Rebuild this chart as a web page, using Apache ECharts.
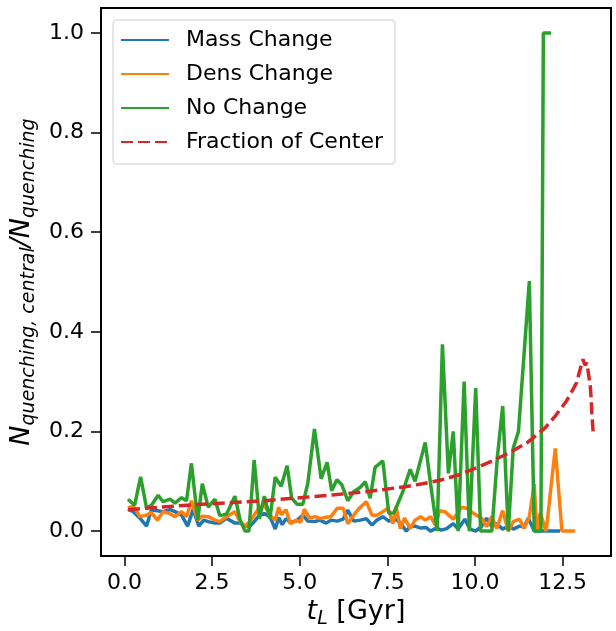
<!DOCTYPE html>
<html><head><meta charset="utf-8">
<script src="https://cdn.jsdelivr.net/npm/echarts@6/dist/echarts.min.js"></script>
<style>html,body{margin:0;padding:0;background:#fff}#c{width:616px;height:631px}</style>
</head><body><div id="c"></div>
<script>
const xTicks = [0, 2.5, 5, 7.5, 10, 12.5];
const yTicks = [0, 0.2, 0.4, 0.6, 0.8, 1.0];

const massT = [0.10,0.25,0.44,0.63,0.77,0.94,1.10,1.30,1.44,1.63,1.80,1.96,2.12,2.26,2.39,2.58,2.72,2.91,3.15,3.30,3.44,3.58,3.70,3.85,3.99,4.15,4.30,4.40,4.50,4.61,4.73,4.90,5.09,5.23,5.42,5.58,5.75,5.89,6.07,6.24,6.37,6.54,6.73,6.90,7.06,7.20,7.37,7.54,7.69,7.85,8.04,8.15,8.29,8.45,8.61,8.73,8.90,9.04,9.19,9.38,9.52,9.71,9.86,10.02,10.19,10.33,10.48,10.62,10.79,10.95,11.09,11.27,11.40,11.52,11.69,12.43];
const massV = [0.044,0.039,0.026,0.010,0.043,0.041,0.039,0.043,0.039,0.032,0.010,0.044,0.010,0.022,0.019,0.016,0.016,0.026,0.016,0.016,0.010,0.010,0.019,0.032,0.035,0.029,0.004,0.027,0.013,0.025,0.018,0.020,0.032,0.020,0.019,0.022,0.016,0.022,0.020,0.024,0.042,0.020,0.022,0.025,0.012,0.022,0.029,0.020,0.025,0.018,0.000,0.009,0.010,0.006,0.007,0.000,0.006,0.002,0.005,0.015,0.004,0.024,0.004,0.000,0.010,0.026,0.009,0.015,0.004,0.010,0.004,0.010,0.008,0.026,0.000,0.000];

const densT = [0.10,0.25,0.44,0.63,0.77,0.94,1.10,1.30,1.44,1.63,1.77,1.91,2.09,2.22,2.39,2.58,2.72,2.91,3.15,3.30,3.44,3.58,3.70,3.85,3.99,4.15,4.30,4.40,4.47,4.61,4.73,4.90,5.03,5.13,5.28,5.44,5.58,5.75,5.89,6.07,6.24,6.37,6.54,6.70,6.90,7.06,7.20,7.37,7.52,7.66,7.75,7.87,7.99,8.15,8.29,8.45,8.58,8.73,8.87,8.99,9.14,9.38,9.62,9.76,9.95,10.19,10.33,10.48,10.62,10.79,10.95,11.09,11.27,11.40,11.55,11.69,11.76,11.86,12.03,12.29,12.48,12.86];
const densV = [0.046,0.050,0.029,0.032,0.037,0.022,0.039,0.035,0.029,0.039,0.029,0.061,0.022,0.030,0.029,0.022,0.019,0.029,0.039,0.019,0.010,0.019,0.032,0.048,0.052,0.032,0.022,0.048,0.033,0.043,0.015,0.022,0.018,0.044,0.026,0.029,0.025,0.028,0.029,0.046,0.046,0.015,0.032,0.046,0.059,0.032,0.032,0.039,0.046,0.015,0.049,0.005,0.026,0.005,0.022,0.029,0.022,0.029,0.012,0.041,0.039,0.024,0.048,0.046,0.036,0.026,0.009,0.029,0.005,0.041,0.000,0.019,0.024,0.005,0.029,0.095,0.000,0.036,0.000,0.166,0.000,0.000];

const noT = [0.10,0.29,0.46,0.63,0.77,0.96,1.10,1.30,1.44,1.63,1.77,1.91,2.09,2.22,2.39,2.58,2.72,2.91,3.15,3.30,3.44,3.55,3.70,3.85,3.99,4.15,4.30,4.47,4.64,4.77,4.92,5.09,5.23,5.42,5.61,5.78,5.91,6.06,6.20,6.37,6.54,6.73,6.87,7.01,7.15,7.37,7.54,7.69,7.94,8.15,8.29,8.58,8.73,8.92,9.07,9.24,9.38,9.52,9.69,9.84,10.02,10.16,10.48,10.64,10.79,10.95,11.09,11.24,11.55,11.69,11.88,11.95,12.17];
const noV = [0.064,0.052,0.109,0.046,0.052,0.072,0.059,0.064,0.056,0.067,0.061,0.136,0.022,0.095,0.048,0.064,0.031,0.034,0.070,0.022,0.000,0.000,0.143,0.025,0.070,0.025,0.108,0.090,0.131,0.066,0.054,0.054,0.096,0.205,0.105,0.138,0.081,0.103,0.093,0.061,0.079,0.088,0.099,0.066,0.128,0.141,0.036,0.037,0.079,0.124,0.100,0.178,0.096,0.000,0.375,0.116,0.200,0.000,0.300,0.000,0.287,0.000,0.000,0.150,0.251,0.000,0.166,0.200,0.502,0.000,0.000,1.000,1.000];

const fracT = [0.10,1.00,2.00,3.00,4.00,5.00,6.00,7.00,8.00,8.50,9.00,9.50,10.00,10.50,11.00,11.50,12.00,12.30,12.60,12.80,12.90,13.00,13.08,13.14,13.19,13.25,13.29,13.32,13.33,13.35,13.37];
const fracV = [0.043,0.048,0.053,0.057,0.061,0.067,0.073,0.080,0.089,0.095,0.102,0.112,0.126,0.141,0.158,0.178,0.207,0.232,0.260,0.285,0.298,0.325,0.345,0.333,0.338,0.310,0.290,0.260,0.240,0.220,0.200];

const names = ['Mass Change', 'Dens Change', 'No Change', 'Fraction of Center'];
const colors = ['#1f77b4', '#ff7f0e', '#2ca02c', '#d62728'];

function pairs(t, v) { return t.map((x, i) => [x, v[i]]); }

const FF = 'DejaVu Sans';
const LW = 3.5;
const chart = echarts.init(document.getElementById('c'), null, {renderer: 'canvas'});
chart.setOption({
  animation: false,
  backgroundColor: '#fff',
  grid: {left: 101, right: 5, top: 8, bottom: 75, outerBoundsMode: 'none', containLabel: false,
    show: true, borderColor: '#000', borderWidth: 2, backgroundColor: 'transparent'},
  xAxis: {
    type: 'value', min: -0.67, max: 13.88,
    splitLine: {show: false},
    axisLine: {show: true, onZero: false, lineStyle: {color: '#000', width: 2}},
    axisTick: {show: true, length: 10, lineStyle: {color: '#000', width: 1.5}, customValues: xTicks},
    axisLabel: {customValues: xTicks, margin: 16, color: '#000', fontFamily: FF, fontSize: 22, formatter: v => v.toFixed(1)},
    name: '{it|t}{sub|L}{rm| [Gyr]}', nameLocation: 'middle', nameGap: 38,
    nameTextStyle: {fontFamily: FF, fontSize: 27, color: '#000',
      rich: {it: {fontStyle: 'italic', fontSize: 27, fontFamily: FF}, sub: {fontStyle: 'italic', fontSize: 19, fontFamily: FF, padding: [13, 0, 0, 0]}, rm: {fontSize: 27, fontFamily: FF}}}
  },
  yAxis: {
    type: 'value', min: -0.05, max: 1.05,
    splitLine: {show: false},
    axisLine: {show: true, onZero: false, lineStyle: {color: '#000', width: 2}},
    axisTick: {show: true, length: 10, lineStyle: {color: '#000', width: 1.5}, customValues: yTicks},
    axisLabel: {customValues: yTicks, margin: 17, color: '#000', fontFamily: FF, fontSize: 22, formatter: v => v.toFixed(1)},
    name: '{it|N}{sub|quenching, central}{it|/N}{sub|quenching}', nameLocation: 'middle', nameRotate: 90, nameGap: 56,
    nameTextStyle: {fontFamily: FF, fontSize: 27, color: '#000',
      rich: {it: {fontStyle: 'italic', fontSize: 27, fontFamily: FF}, sub: {fontStyle: 'italic', fontSize: 19, fontFamily: FF, padding: [13, 0, 0, 0]}}}
  },
  legend: {
    orient: 'vertical', left: 113, top: 20,
    padding: [8, 12, 10, 7], itemGap: 10, itemWidth: 48, itemHeight: 14,
    backgroundColor: 'rgba(255,255,255,0.8)', borderColor: '#cccccc', borderWidth: 1, borderRadius: 4,
    itemStyle: {opacity: 0, borderWidth: 0},
    textStyle: {fontFamily: FF, fontSize: 22, color: '#000', lineHeight: 24, padding: [0, 0, 0, 12]},
    data: names.map(n => ({name: n}))
  },
  series: [
    {name: names[0], type: 'line', data: pairs(massT, massV), showSymbol: false, symbol: 'none', color: colors[0], lineStyle: {width: LW, color: colors[0]}},
    {name: names[1], type: 'line', data: pairs(densT, densV), showSymbol: false, symbol: 'none', color: colors[1], lineStyle: {width: LW, color: colors[1]}},
    {name: names[2], type: 'line', data: pairs(noT, noV), showSymbol: false, symbol: 'none', color: colors[2], lineStyle: {width: LW, color: colors[2]}},
    {name: names[3], type: 'line', data: pairs(fracT, fracV), showSymbol: false, symbol: 'none', color: colors[3], lineStyle: {width: LW, color: colors[3], type: [12, 5]}}
  ]
});
</script></body></html>
